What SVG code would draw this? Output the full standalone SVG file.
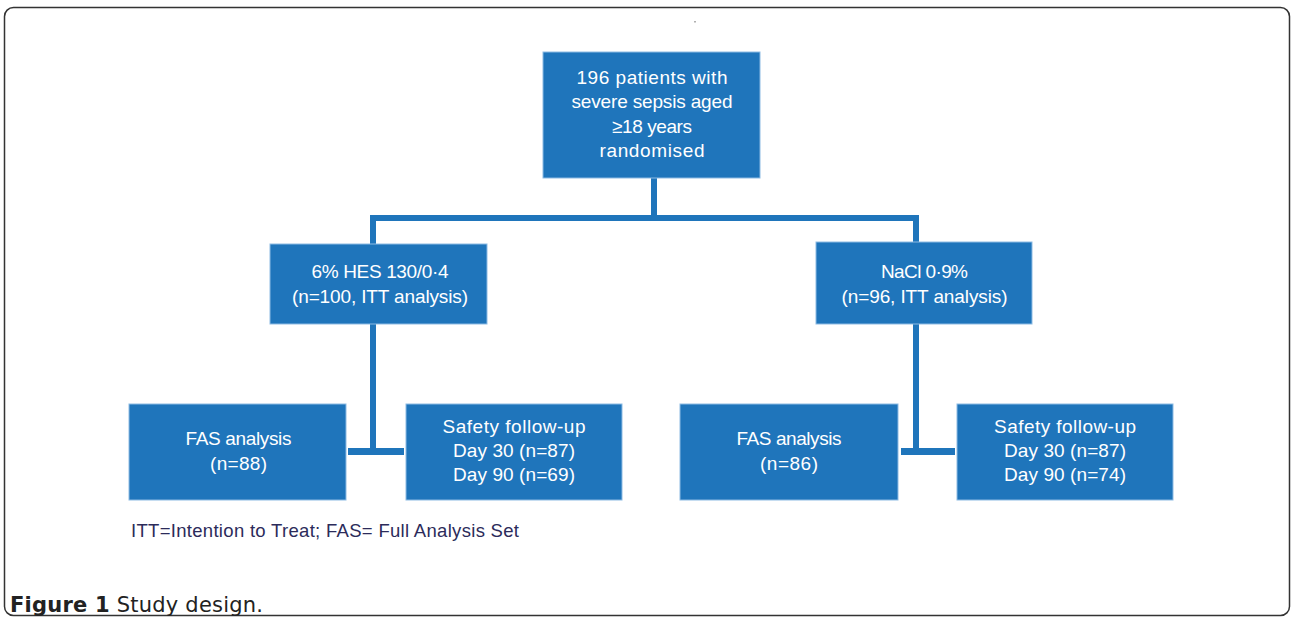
<svg xmlns="http://www.w3.org/2000/svg" width="1292" height="617" viewBox="0 0 1292 617">
<style>
.box{fill:#1f75bb;stroke:#8dbbe3;stroke-width:1}
.t{font-family:"Liberation Sans",Arial,sans-serif;font-size:19px;fill:#ffffff;text-anchor:middle}
.ln{fill:#1f75bb}
.foot{font-family:"Liberation Sans",Arial,sans-serif;font-size:18.5px;fill:#2c2b5a}
.cap{font-family:"DejaVu Sans","Open Sans",sans-serif;font-size:21px;fill:#222}
</style>
<rect x="4.5" y="7.5" width="1285" height="608" rx="9" ry="9" fill="#ffffff" stroke="#333333" stroke-width="1.5"/>
<rect x="694" y="21" width="2" height="1.5" fill="#b0b0b0"/>
<g id="connectors">
<rect class="ln" x="651" y="178" width="6" height="40"/>
<rect class="ln" x="370" y="215" width="549" height="6"/>
<rect class="ln" x="370" y="215" width="6" height="29"/>
<rect class="ln" x="913" y="215" width="6" height="27"/>
<rect class="ln" x="370" y="324" width="6" height="128"/>
<rect class="ln" x="348" y="448" width="56" height="7"/>
<rect class="ln" x="913" y="324" width="6" height="128"/>
<rect class="ln" x="901" y="448" width="54" height="7"/>
</g>
<g id="n-random">
<rect class="box" x="543" y="52" width="217" height="126"/>
<text class="t" x="652" y="84" textLength="151">196 patients with</text>
<text class="t" x="652" y="108" textLength="161">severe sepsis aged</text>
<text class="t" x="652" y="133" textLength="80">≥18 years</text>
<text class="t" x="652" y="157" textLength="105">randomised</text>
</g>
<g id="n-hes">
<rect class="box" x="270" y="244" width="217" height="80"/>
<text class="t" x="380" y="278" textLength="137">6% HES 130/0·4</text>
<text class="t" x="380" y="303" textLength="176">(n=100, ITT analysis)</text>
</g>
<g id="n-nacl">
<rect class="box" x="816" y="242" width="216" height="82"/>
<text class="t" x="924.5" y="278" textLength="87">NaCl 0·9%</text>
<text class="t" x="924.5" y="303" textLength="166">(n=96, ITT analysis)</text>
</g>
<g id="n-fas1">
<rect class="box" x="129" y="404" width="217" height="96"/>
<text class="t" x="238.5" y="445" textLength="106">FAS analysis</text>
<text class="t" x="238.5" y="470" textLength="57">(n=88)</text>
</g>
<g id="n-safe1">
<rect class="box" x="406" y="404" width="216" height="96"/>
<text class="t" x="514" y="433" textLength="143">Safety follow-up</text>
<text class="t" x="514" y="457" textLength="122">Day 30 (n=87)</text>
<text class="t" x="514" y="481" textLength="122">Day 90 (n=69)</text>
</g>
<g id="n-fas2">
<rect class="box" x="680" y="404" width="218" height="96"/>
<text class="t" x="789" y="445" textLength="105">FAS analysis</text>
<text class="t" x="789" y="470" textLength="58">(n=86)</text>
</g>
<g id="n-safe2">
<rect class="box" x="957" y="404" width="216" height="96"/>
<text class="t" x="1065" y="433" textLength="142">Safety follow-up</text>
<text class="t" x="1065" y="457" textLength="122">Day 30 (n=87)</text>
<text class="t" x="1065" y="481" textLength="122">Day 90 (n=74)</text>
</g>
<text class="foot" x="131" y="537" textLength="388">ITT=Intention to Treat; FAS= Full Analysis Set</text>
<text class="cap" x="10" y="612" textLength="253"><tspan font-weight="bold">Figure 1</tspan> Study design.</text>
</svg>
